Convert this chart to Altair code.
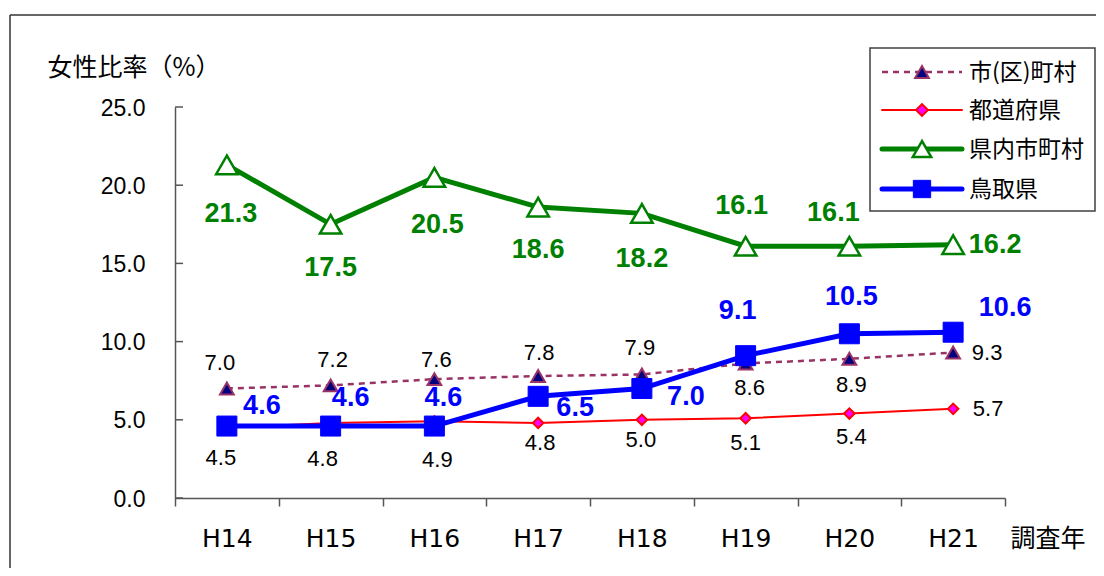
import altair as alt
import pandas as pd

# ---------------- data ----------------
years = ["H14", "H15", "H16", "H17", "H18", "H19", "H20", "H21"]
shiku = [7.0, 7.2, 7.6, 7.8, 7.9, 8.6, 8.9, 9.3]          # 市(区)町村
todofuken = [4.5, 4.8, 4.9, 4.8, 5.0, 5.1, 5.4, 5.7]      # 都道府県
kennai = [21.3, 17.5, 20.5, 18.6, 18.2, 16.1, 16.1, 16.2] # 県内市町村
tottori = [4.6, 4.6, 4.6, 6.5, 7.0, 9.1, 10.5, 10.6]      # 鳥取県
names = ["市(区)町村", "都道府県", "県内市町村", "鳥取県"]
y_ticks = [0, 5, 10, 15, 20, 25]

series_values = [shiku, todofuken, kennai, tottori]
rows = []
for name, vals in zip(names, series_values):
    for i, (yr, v) in enumerate(zip(years, vals)):
        rows.append({"series": name, "year": yr, "value": v, "idx": i})
df = pd.DataFrame(rows)
ticks_df = pd.DataFrame({"value": y_ticks})
one = pd.DataFrame({"a": [0]})

# ---------------- style ----------------
FONT_JP = "Noto Sans CJK JP"
FONT_NUM = "Liberation Sans"
AXIS_C = "#555555"

styles = {
    "市(区)町村": dict(color="#993366", width=2.5, dash=[6, 5], shape="triangle-up", size=190,
                   fill="#000080", mstroke="#993366", mw=2,
                   tcolor="black", tsize=22, tweight="normal",
                   offsets=[(-7, -26), (2, -25), (2, -19), (1, -23), (-2, -26), (4, 25), (2, 26), (34, 0)],
                   lsize=190),
    "都道府県": dict(color="#FF0000", width=2, dash=None, shape="diamond", size=110,
                 fill="#FF00FF", mstroke="#FF0000", mw=2,
                 tcolor="black", tsize=22, tweight="normal",
                 offsets=[(-6, 30), (-8, 36), (3, 39), (2, 20), (-1, 20), (0, 25), (2, 23), (35, 0)],
                 lsize=140),
    "県内市町村": dict(color="#008000", width=5, dash=None, shape="triangle-up", size=460,
                  fill="white", mstroke="#008000", mw=2.5,
                  tcolor="#008000", tsize=27, tweight="bold",
                  offsets=[(4, 49), (0, 44), (3, 48), (0, 43), (0, 46), (-4, -40), (-16, -33), (42, 0)],
                  lsize=340),
    "鳥取県": dict(color="#0000FF", width=5, dash=None, shape="square", size=400,
                fill="#0000FF", mstroke="#0000FF", mw=1,
                tcolor="#0000FF", tsize=27, tweight="bold",
                offsets=[(35, -20), (20, -28), (9, -28), (37, 12), (44, 8), (-8, -45), (2, -37), (52, -24)],
                lsize=300),
}

X = alt.X(
    "year:N", sort=years, bandPosition=0.5,
    scale=alt.Scale(type="band", domain=years, paddingInner=0, paddingOuter=0),
    axis=alt.Axis(title="調査年", titleX=835, titleY=48, titleAlign="left", titleAngle=0,
                  titleBaseline="alphabetic", titleFont=FONT_JP, titleFontSize=25,
                  titleFontWeight="normal", titleColor="black",
                  labelFont="DejaVu Sans", labelFontSize=25, labelColor="black", labelAngle=0,
                  labelPadding=20, tickBand="extent", tickSize=8, tickColor=AXIS_C,
                  domainColor=AXIS_C, domainWidth=1.5, tickWidth=1.5, grid=False),
)
Y = alt.Y(
    "value:Q",
    scale=alt.Scale(domain=[0, 25], nice=False, zero=True),
    axis=alt.Axis(title="女性比率（%）", titleX=-128, titleY=-32, titleAngle=0, titleAlign="left",
                  titleBaseline="alphabetic", titleFont=FONT_JP, titleFontSize=25,
                  titleFontWeight="normal", titleColor="black",
                  values=y_ticks, format=".1f", labelFont=FONT_NUM, labelFontSize=23,
                  labelColor="black", ticks=False, labelPadding=30, labelOffset=1,
                  domainColor=AXIS_C, domainWidth=1.5, grid=False),
)

layers = []

# frame (outer border, top and left)
layers.append(alt.Chart(one).mark_rule(color="#333333", strokeWidth=1.5).encode(
    x=alt.value(-165), x2=alt.value(925), y=alt.value(-92)))
layers.append(alt.Chart(one).mark_rule(color="#333333", strokeWidth=1.5).encode(
    x=alt.value(-165), y=alt.value(-92), y2=alt.value(470)))

# inward y ticks
layers.append(alt.Chart(ticks_df).mark_rule(color=AXIS_C, strokeWidth=1.5).encode(
    y=Y, x=alt.value(0), x2=alt.value(8)))

for name in names:
    s = styles[name]
    sub = alt.Chart(df).transform_filter(alt.datum.series == name)
    line_kw = dict(color=s["color"], strokeWidth=s["width"])
    if s["dash"]:
        line_kw["strokeDash"] = s["dash"]
    layers.append(sub.mark_line(**line_kw).encode(x=X, y=Y))
    layers.append(sub.mark_point(shape=s["shape"], size=s["size"], filled=True,
                                 fill=s["fill"], stroke=s["mstroke"], strokeWidth=s["mw"],
                                 opacity=1).encode(x=X, y=Y))

for name in names:
    s = styles[name]
    groups = {}
    for i, off in enumerate(s["offsets"]):
        groups.setdefault(off, []).append(i)
    for (dx, dy), idxs in groups.items():
        layers.append(
            alt.Chart(df)
            .transform_filter(alt.datum.series == name)
            .transform_filter(alt.FieldOneOfPredicate(field="idx", oneOf=idxs))
            .mark_text(dx=dx, dy=dy, align="center", baseline="middle",
                       font=FONT_NUM, fontSize=s["tsize"], fontWeight=s["tweight"],
                       color=s["tcolor"])
            .encode(x=X, y=Y, text=alt.Text("value:Q", format=".1f"))
        )

# legend (drawn manually)
layers.append(alt.Chart(one).mark_rect(fill="white", stroke="#404040", strokeWidth=1.5).encode(
    x=alt.value(695), x2=alt.value(920), y=alt.value(-59), y2=alt.value(104)))
legend_rows = [-35, 3, 42, 82]
for name, ry in zip(names, legend_rows):
    s = styles[name]
    line_kw = dict(color=s["color"], strokeWidth=s["width"], strokeCap="round")
    if s["dash"]:
        line_kw["strokeDash"] = s["dash"]
        line_kw["strokeCap"] = "butt"
    layers.append(alt.Chart(one).mark_rule(**line_kw).encode(
        x=alt.value(707), x2=alt.value(787), y=alt.value(ry)))
    layers.append(alt.Chart(one).mark_point(shape=s["shape"], size=s["lsize"], filled=True,
                                            fill=s["fill"], stroke=s["mstroke"],
                                            strokeWidth=s["mw"], opacity=1).encode(
        x=alt.value(747), y=alt.value(ry)))
    layers.append(alt.Chart(one).mark_text(align="left", baseline="middle", font=FONT_JP,
                                           fontSize=23, color="black").encode(
        x=alt.value(794), y=alt.value(ry + 1), text=alt.value(name)))

chart = (
    alt.layer(*layers)
    .properties(width=830, height=391,
                autosize=alt.AutoSizeParams(type="none"),
                padding={"left": 167, "top": 99, "right": 91, "bottom": 70},
                background="white")
    .configure_view(stroke=None)
)

chart.save("out.html", embed_options={"renderer": "svg", "actions": False})
